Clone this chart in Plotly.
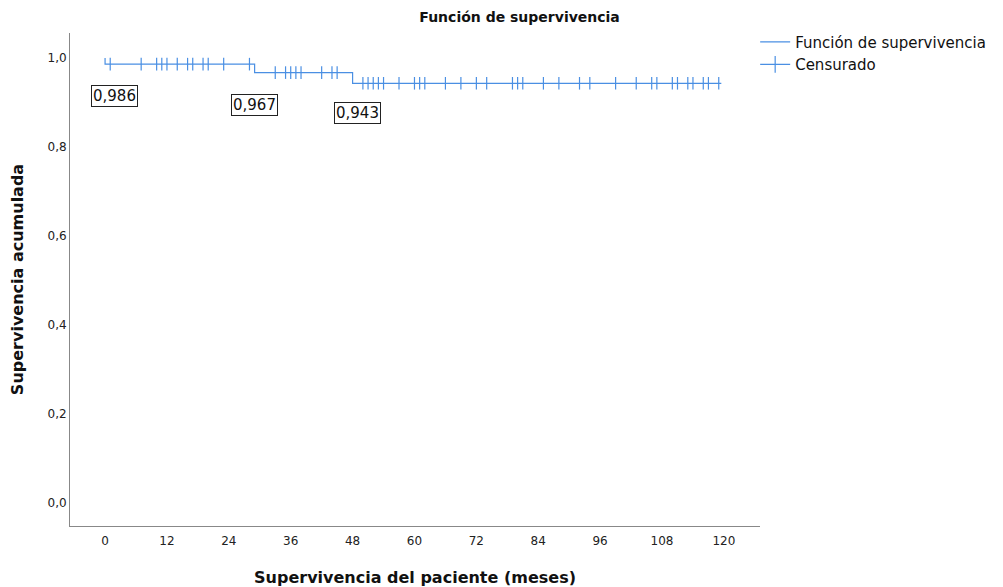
import plotly.graph_objects as go

# Kaplan-Meier step data (months, cumulative survival)
step_times = [0, 0, 29, 48, 119.5]
step_surv = [1.0, 0.986, 0.967, 0.943, 0.943]

# Censored observation times (months)
censor_times = [1, 7, 10, 11, 12, 14, 16, 17, 19, 20, 23, 28,
                 33, 35, 36, 37, 38, 42, 44, 45,
                 50, 51, 52, 53, 54, 57, 60, 61, 62, 66, 69, 72, 74, 79, 80, 81,
                 85, 88, 92, 94, 99, 103, 106, 107, 110, 111, 113, 114, 116, 117, 119]

# Labelled survival values at each drop
label_times = [0, 29, 48]
label_values = [0.986, 0.967, 0.943]
label_texts = ["0,986", "0,967", "0,943"]

x_ticks = [0, 12, 24, 36, 48, 60, 72, 84, 96, 108, 120]
y_ticks = [0.0, 0.2, 0.4, 0.6, 0.8, 1.0]

BLUE = "#4a8fe3"


def surv_at(t):
    s = step_surv[0]
    for tt, ss in zip(step_times, step_surv):
        if tt <= t:
            s = ss
    return s


censor_surv = [surv_at(t) for t in censor_times]

fig = go.Figure()
fig.add_trace(go.Scatter(
    x=step_times, y=step_surv, mode="lines", line=dict(color=BLUE, width=1.2, shape="hv"),
    name="Función de supervivencia", hoverinfo="skip"))
fig.add_trace(go.Scatter(
    x=censor_times, y=censor_surv, mode="markers",
    marker=dict(symbol="line-ns", size=9, line=dict(color=BLUE, width=1.2), color=BLUE),
    showlegend=False, hoverinfo="skip"))
fig.add_trace(go.Scatter(
    x=[None], y=[None], mode="lines+markers", name="Censurado",
    line=dict(color=BLUE, width=1.2),
    marker=dict(symbol="line-ns", size=12, line=dict(color=BLUE, width=1.2), color=BLUE)))

label_offsets = [0.071, 0.072, 0.066]
label_dx = [1.8, 0, 1.0]
for t, v, txt, off, dx in zip(label_times, label_values, label_texts, label_offsets, label_dx):
    fig.add_annotation(x=t + dx, y=v - off, xref="x", yref="y", text=txt, showarrow=False,
                       font=dict(family="DejaVu Sans", size=15, color="#111"),
                       bordercolor="#222", borderwidth=1, borderpad=1, bgcolor="white")

fig.update_layout(
    width=1003, height=587,
    margin=dict(l=70, r=241, t=33, b=61),
    paper_bgcolor="white", plot_bgcolor="white",
    separators=",.",
    title=dict(text="<b>Función de supervivencia</b>", x=0.518, xanchor="center",
               y=1 - 17 / 587, yanchor="middle", yref="container",
               font=dict(family="DejaVu Sans", size=14, color="#111")),
    xaxis=dict(range=[-6.8, 127], tickvals=x_ticks, ticks="", showgrid=False, zeroline=False,
               showline=True, linecolor="#888", linewidth=1, ticklabelstandoff=4,
               automargin=False,
               tickfont=dict(family="DejaVu Sans", size=12, color="#222"),
               title=dict(text="<b>Supervivencia del paciente (meses)</b>", standoff=24,
                          font=dict(family="DejaVu Sans", size=16, color="#111"))),
    yaxis=dict(range=[-0.052, 1.056], tickvals=y_ticks, tickformat=".1f", ticks="",
               showgrid=False, zeroline=False, showline=True, linecolor="#888", linewidth=1,
               automargin=False,
               tickfont=dict(family="DejaVu Sans", size=12, color="#222"),
               title=dict(text="<b>Supervivencia acumulada</b>", standoff=19,
                          font=dict(family="DejaVu Sans", size=16, color="#111"))),
    legend=dict(x=0.993, y=1.015, xanchor="left", yanchor="top", bgcolor="rgba(0,0,0,0)",
                font=dict(family="DejaVu Sans", size=15, color="#111"),
                tracegroupgap=0, itemwidth=30),
    showlegend=True,
)

fig.write_html("out.html")
